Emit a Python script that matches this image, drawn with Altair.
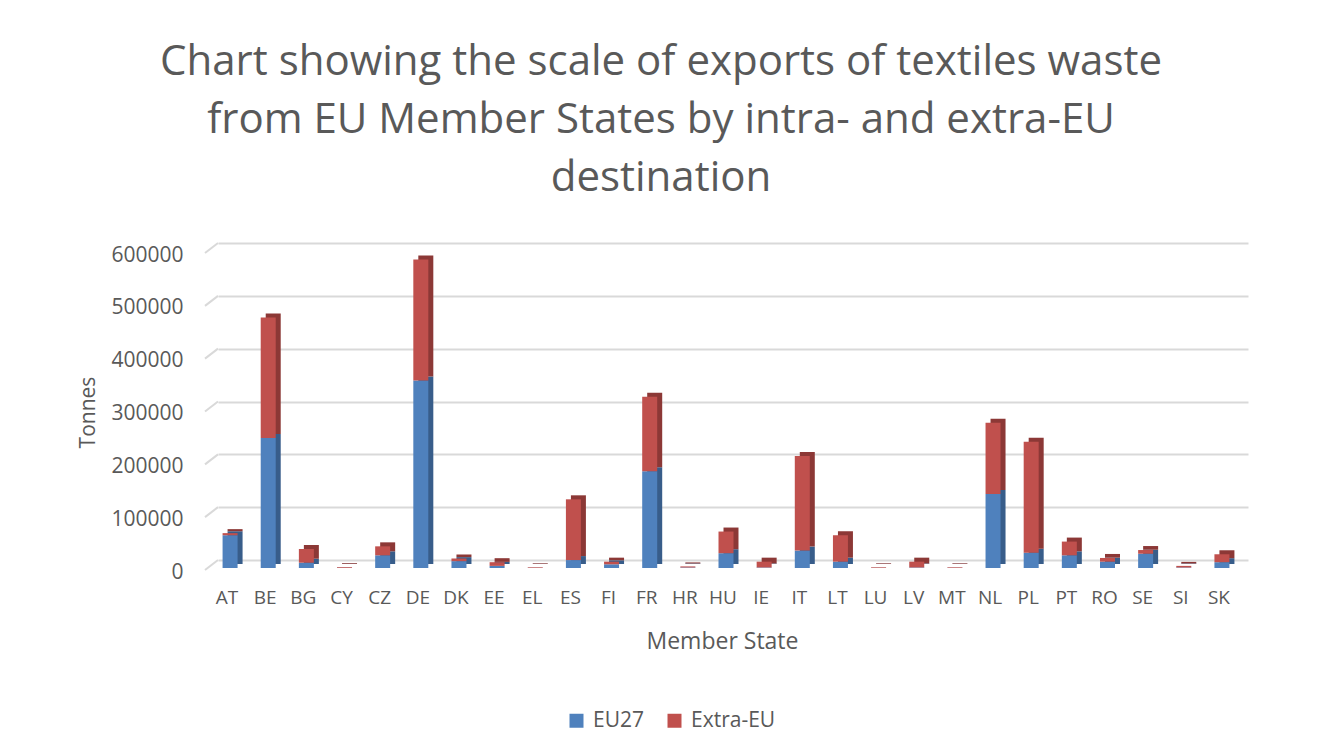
import altair as alt
import pandas as pd

states = ["AT", "BE", "BG", "CY", "CZ", "DE", "DK", "EE", "EL", "ES", "FI", "FR", "HR", "HU",
          "IE", "IT", "LT", "LU", "LV", "MT", "NL", "PL", "PT", "RO", "SE", "SI", "SK"]
eu27 = [62000, 246000, 10000, 500, 24000, 355000, 13000, 4000, 300, 15000, 7000, 183000, 1000, 28000,
        1000, 33000, 12000, 300, 1000, 300, 140000, 29000, 24000, 12000, 27000, 1000, 11000]
extra_eu = [4000, 228000, 26000, 1500, 17000, 229000, 5000, 7000, 1200, 115000, 5000, 141000, 2000, 41000,
            11000, 179000, 50000, 1200, 11000, 1200, 135000, 210000, 26000, 7000, 7000, 3000, 15000]
series = ["EU27", "Extra-EU"]
front_colors = ["#4f81bd", "#c0504d"]
side_colors = ["#385d8a", "#8c3836"]
y_ticks = [0, 100000, 200000, 300000, 400000, 500000, 600000]

rows = []
for i, s in enumerate(states):
    rows.append({"state": s, "series": "EU27", "ord": 0, "value": eu27[i]})
    rows.append({"state": s, "series": "Extra-EU", "ord": 1, "value": extra_eu[i]})
df = pd.DataFrame(rows)
ticks_df = pd.DataFrame({"tick": y_ticks})

TXT = "#595959"
FONT = "Open Sans"

x_enc = alt.X("state:N", sort=states, title="Member State",
              scale=alt.Scale(paddingInner=0.59, paddingOuter=0.295),
              axis=alt.Axis(labelAngle=0, labelPadding=28, labelOffset=-10, ticks=False, domain=False,
                            grid=False, labelFont=FONT, titleFont=FONT, labelColor=TXT, titleColor=TXT,
                            titleFontWeight="normal",
                            labelFontSize=19, titleFontSize=23, titleX=504, titleY=81,
                            titleBaseline="middle", titleAlign="center"))
y_enc = alt.Y("value:Q", title="Tonnes",
              scale=alt.Scale(domain=[0, 600000], nice=False),
              axis=alt.Axis(values=y_ticks, format="d", ticks=False, domain=False, labelPadding=35,
                            labelOffset=12, labelFontSize=21, titleFontSize=21,
                            labelFont=FONT, titleFont=FONT, labelColor=TXT, titleColor=TXT,
                            titleFontWeight="normal",
                            gridColor="#d9d9d9", gridWidth=2,
                            titleX=-130, titleY=169, titleAngle=270, titleAlign="center",
                            titleBaseline="middle"))

shadow = alt.Chart(df).mark_bar(size=15, xOffset=-2, yOffset=4).encode(
    x=x_enc, y=y_enc,
    color=alt.Color("series:N", scale=alt.Scale(domain=series, range=side_colors), legend=None),
    order=alt.Order("ord:Q"),
)

front = alt.Chart(df).mark_bar(size=15, xOffset=-7, yOffset=8).encode(
    x=alt.X("state:N", sort=states),
    y=alt.Y("value:Q"),
    color=alt.Color("series:N", scale=alt.Scale(domain=series, range=front_colors),
                    legend=alt.Legend(title=None, orient="none", direction="horizontal",
                                      legendX=348, legendY=467, symbolType="square", symbolSize=196,
                                      symbolStrokeWidth=0, labelFontSize=21, labelColor=TXT,
                                      labelFont=FONT, labelOffset=6, columnPadding=20)),
    order=alt.Order("ord:Q"),
)

slants = alt.Chart(ticks_df).mark_rule(color="#d9d9d9", strokeWidth=2, yOffset=10).encode(
    x=alt.value(-13), x2=alt.value(0),
    y=alt.Y("tick:Q"), y2=alt.Y2("tick:Q"),
)

chart = alt.layer(slants, shadow, front).resolve_scale(color="independent").properties(
    width=1030, height=317,
    padding={"left": 210, "top": 235, "right": 62, "bottom": 190},
    autosize=alt.AutoSizeParams(type="none"),
    background="white",
    title=alt.TitleParams(
        text=["Chart showing the scale of exports of textiles waste",
              "from EU Member States by intra- and extra-EU",
              "destination"],
        fontSize=42, font=FONT, color=TXT, fontWeight="normal", lineHeight=58,
        anchor="middle", dx=-72, offset=42),
).configure_view(stroke=None)

chart.save("out.html", embed_options={"renderer": "svg", "actions": False})
